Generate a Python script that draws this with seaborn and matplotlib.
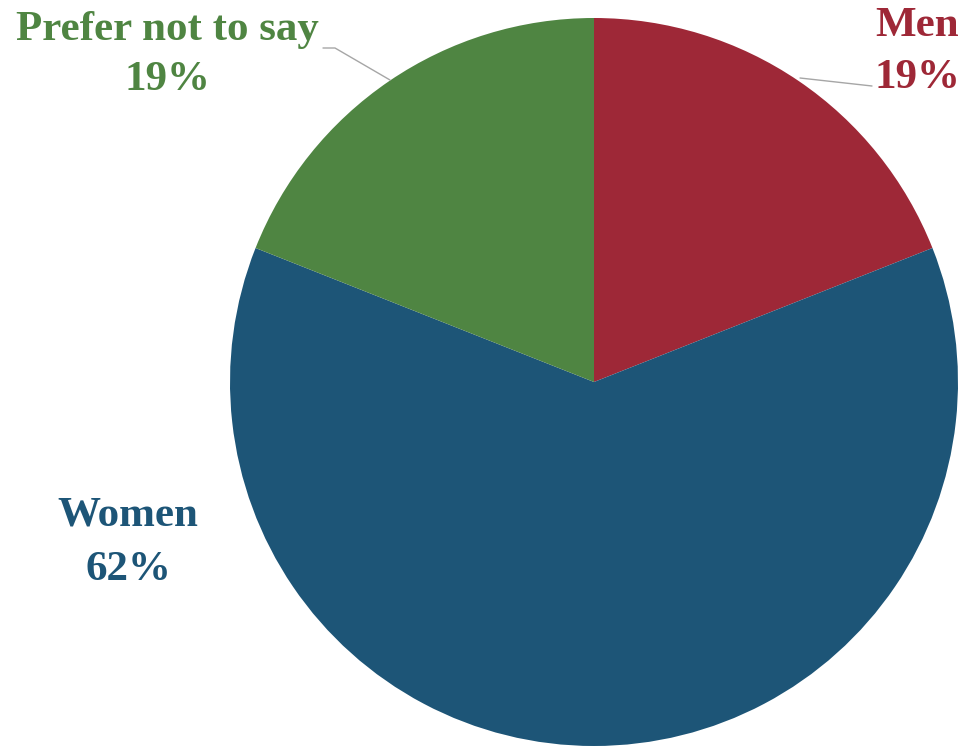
import matplotlib
matplotlib.use("Agg")
import matplotlib.pyplot as plt
import seaborn as sns

sns.set_theme(style="white")
plt.rcParams['font.family'] = ['Liberation Serif', 'DejaVu Serif']

categories = ["Men", "Women", "Prefer not to say"]
values = [19, 62, 19]
colors = ["#9E2837", "#1D5577", "#4F8542"]

W, H = 963, 748
fig = plt.figure(figsize=(W / 100, H / 100), dpi=100)
ax = fig.add_axes([0, 0, 1, 1])

cx, cy, r = 594, H - 382, 364
wedges, _ = ax.pie(values, colors=colors, startangle=90, counterclock=False,
                   center=(cx, cy), radius=r, frame=True,
                   wedgeprops=dict(linewidth=0))
ax.set_xlim(0, W)
ax.set_ylim(0, H)
ax.set_aspect('equal')
ax.axis('off')

fs = 31
kw = dict(fontsize=fs, fontweight='bold', ha='center', va='baseline')

def label(x, y1, y2, i):
    ax.text(x, H - y1, categories[i], color=colors[i], **kw)
    ax.text(x, H - y2, f"{values[i]}%", color=colors[i], **kw)

label(917, 36, 88, 0)
label(128, 525, 580, 1)
label(167, 40, 90, 2)

ax.plot([800, 872], [H - 78, H - 86], color='#A6A6A6', lw=1)
ax.plot([323, 335, 390], [H - 48, H - 48, H - 80], color='#A6A6A6', lw=1)

fig.savefig("out.png", dpi=100)
